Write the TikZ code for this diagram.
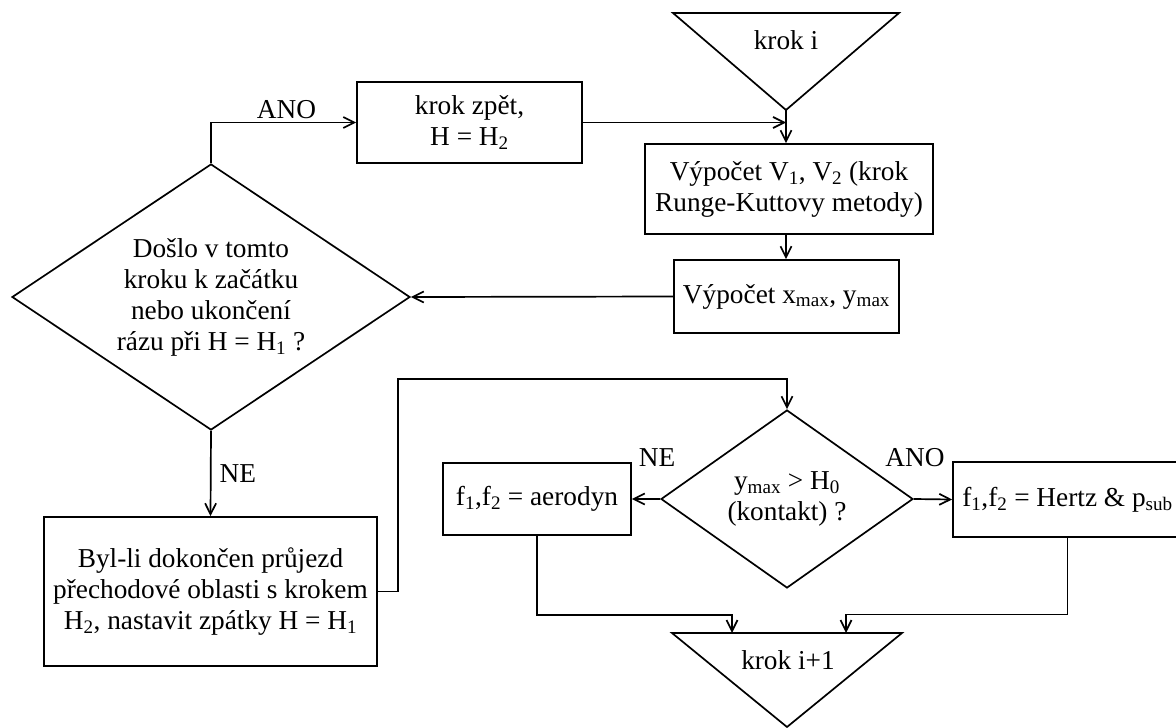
\documentclass[tikz,border=0pt]{standalone}
\usepackage{fontspec}
\setmainfont{Liberation Serif}
\usetikzlibrary{shapes.geometric,arrows.meta}

\tikzset{
  >={Straight Barb[length=11pt,width=11pt]},
  blok/.style={draw, rectangle, inner sep=0pt, align=center},
  rozhod/.style={draw, diamond, inner sep=0pt, align=center, aspect=1.5},
  popis/.style={inner sep=0.75pt},
}

\begin{document}
\begin{tikzpicture}[x=1pt,y=1pt,yscale=-1,line width=1.7pt,font=\fontsize{27.3}{31}\selectfont]
\useasboundingbox (0,0) rectangle (1176,728);
\clip (0,0) rectangle (1176,728);

%Shape: Triangle krok i
\draw (673,13) -- (899,13) -- (786,110) -- cycle ;
\coordinate (ispicka) at (786,110);
\node[popis] (kroki) at (786,40) {krok i};

%Shape: Boxes
\node[blok, minimum width=225pt, minimum height=81pt] (zpet) at (469.5,122.5) {krok zpět,\\H = H\textsubscript{2}};
\node[blok, minimum width=288pt, minimum height=90pt] (vyp1) at (789,189) {Výpočet V\textsubscript{1}, V\textsubscript{2} (krok\\Runge-Kuttovy metody)};
\node[blok, minimum width=225pt, minimum height=73pt] (vyp2) at (786.5,296.5) {Výpočet x\textsubscript{max}, y\textsubscript{max}};
\node[blok, minimum width=333pt, minimum height=149pt] (byl) at (210.5,591.5) {Byl-li dokončen průjezd\\přechodové oblasti s krokem\\H\textsubscript{2}, nastavit zpátky H = H\textsubscript{1}};
\node[blok, minimum width=188pt, minimum height=72pt] (aero) at (537,499) {f\textsubscript{1},f\textsubscript{2} = aerodyn};
\node[blok, minimum width=229pt, minimum height=75pt] (hertz) at (1067.5,499.5) {f\textsubscript{1},f\textsubscript{2} = Hertz \& p\textsubscript{sub}};

%Shape: Diamonds
\node[rozhod, minimum width=398pt, minimum height=266pt] (dec1) at (211,297) {Došlo v tomto\\kroku k začátku\\nebo ukončení\\rázu při H = H\textsubscript{1} ?};
\node[rozhod, minimum width=252pt, minimum height=178pt] (dec2) at (787,499) {y\textsubscript{max} > H\textsubscript{0}\\(kontakt) ?};

%Shape: Triangle krok i+1
\draw (672,633) -- (902,633) -- (787,727) -- cycle ;
\coordinate (vstup1) at (732,633);
\coordinate (vstup2) at (846,633);
\node[popis] (kroki1) at (788,660) {krok i+1};

%Straight Lines
\draw[->] (zpet.east) -- (zpet.east -| ispicka);
\draw[->] (ispicka) -- (ispicka |- vyp1.north);
\draw[->] (vyp1.south -| ispicka) -- (vyp2.north -| ispicka);
\draw[->] (vyp2.west) -- (dec1.east);
\draw[->] (dec1.north) |- (zpet.west) node[pos=0.76, above, popis, yshift=2pt] {ANO};
\draw[->] (dec1.south) -- (byl.north) node[midway, right, inner sep=8pt] {NE};
\coordinate (ohyb) at (398,379);
\draw[->] (byl.east) -| (ohyb) -| (dec2.north);
\draw[->] (dec2.west) -- (aero.east);
\draw[->] (dec2.east) -- (hertz.west);
\draw[->] (aero.south) -- ++(0,79) -| (vstup1);
\draw[->] (hertz.south) -- ++(0,76.5) -| (vstup2);

% Text Node
\node[popis] (ne2) at (657,458) {NE};
% Text Node
\node[popis] (ano2) at (915,458) {ANO};

\end{tikzpicture}
\end{document}
